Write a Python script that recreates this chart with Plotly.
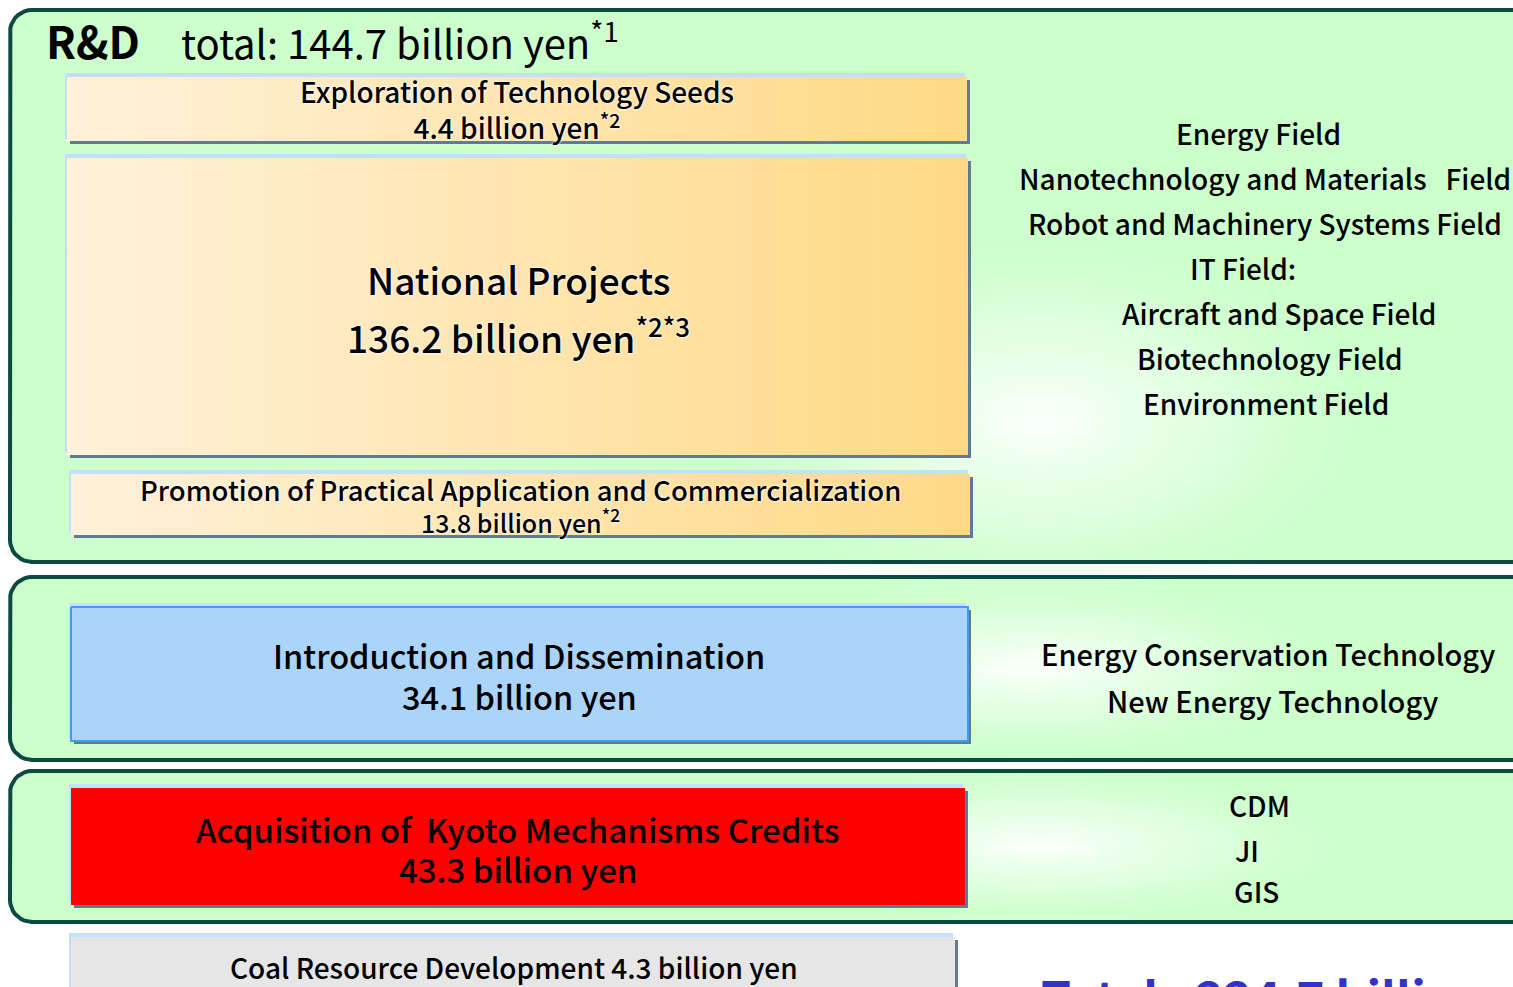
import math
import plotly.graph_objects as go

# ---------------- data ----------------
rd_title = "R&D"
rd_total = 144.7
rd_total_note = "*1"
rd_items = ["Exploration of Technology Seeds", "National Projects",
            "Promotion of Practical Application and Commercialization"]
rd_values = [4.4, 136.2, 13.8]
rd_notes = ["*2", "*2*3", "*2"]
rd_fields = ["Energy Field", "Nanotechnology and Materials   Field",
             "Robot and Machinery Systems Field", "IT Field:",
             "Aircraft and Space Field", "Biotechnology Field", "Environment Field"]

intro_item = "Introduction and Dissemination"
intro_value = 34.1
intro_fields = ["Energy Conservation Technology", "New Energy Technology"]

kyoto_item = "Acquisition of  Kyoto Mechanisms Credits"
kyoto_value = 43.3
kyoto_fields = ["CDM", "JI", "GIS"]

coal_item = "Coal Resource Development"
coal_value = 4.3

grand_total = 224.7
unit = "billion yen"

# ---------------- layout geometry (pixels) ----------------
W, H = 1513, 987
FONT = "Noto Sans CJK JP"

def rounded(x0, y0, x1, y1, r):
    xs, ys = [], []
    corners = [(x1 - r, y0 + r, -90, 0), (x1 - r, y1 - r, 0, 90),
               (x0 + r, y1 - r, 90, 180), (x0 + r, y0 + r, 180, 270)]
    for cx, cy, a0, a1 in corners:
        for i in range(10):
            a = math.radians(a0 + (a1 - a0) * i / 9)
            xs.append(cx + r * math.cos(a))
            ys.append(cy + r * math.sin(a))
    xs.append(xs[0]); ys.append(ys[0])
    return xs, ys

def rect(x0, y0, x1, y1):
    return [x0, x1, x1, x0, x0], [y0, y0, y1, y1, y0]

def ellipse(cx, cy, rx, ry, n=72):
    xs = [cx + rx * math.cos(2 * math.pi * i / n) for i in range(n + 1)]
    ys = [cy + ry * math.sin(2 * math.pi * i / n) for i in range(n + 1)]
    return xs, ys

fig = go.Figure()

def poly(xs, ys, fillcolor=None, line_color=None, line_width=0, gradient=None, fill=True):
    kw = dict(x=xs, y=ys, hoverinfo="skip", showlegend=False)
    if fill:
        kw["fill"] = "toself"
        if gradient is not None:
            kw["fillgradient"] = gradient
        else:
            kw["fillcolor"] = fillcolor
    if line_width > 0:
        kw["mode"] = "lines"
        kw["line"] = dict(color=line_color, width=line_width)
    else:
        kw["mode"] = "none"
    fig.add_trace(go.Scatter(**kw))

panels = [(10, 10, 1540, 562), (10, 577, 1540, 760), (10, 771, 1540, 922)]
glows = [(1040, 420, 360, 200), (1030, 668, 330, 100), (1040, 846, 340, 85)]
PANEL_FILL = "#ccffcc"
PANEL_LINE = "#0b4a42"

for (x0, y0, x1, y1) in panels:
    xs, ys = rounded(x0, y0, x1, y1, 22)
    poly(xs, ys, fillcolor=PANEL_FILL)
for (cx, cy, rx, ry) in glows:
    xs, ys = ellipse(cx, cy, rx, ry)
    poly(xs, ys, gradient=dict(type="radial",
                               colorscale=[[0, "rgba(255,255,255,0.95)"],
                                           [0.5, "rgba(235,255,235,0.6)"],
                                           [1, "rgba(204,255,204,0)"]]))
for (x0, y0, x1, y1) in panels:
    xs, ys = rounded(x0, y0, x1, y1, 22)
    poly(xs, ys, fill=False, line_color=PANEL_LINE, line_width=4)

ORANGE = dict(type="horizontal", colorscale=[[0, "#fff1da"], [1, "#ffd985"]])
LIGHTBLUE = "#c2e0fc"
SHADOW = "#5f7b92"

def box(x0, y0, x1, y1, fillcolor=None, gradient=None, border=None):
    xs, ys = rect(x0 - 2, y0 - 4, x1 - 2, y1 - 2)
    poly(xs, ys, fillcolor=LIGHTBLUE)
    xs, ys = rect(x0 + 3, y0 + 3, x1 + 3, y1 + 3)
    poly(xs, ys, fillcolor=SHADOW)
    xs, ys = rect(x0, y0, x1, y1)
    if border:
        poly(xs, ys, fillcolor=fillcolor, line_color=border, line_width=2)
    else:
        poly(xs, ys, fillcolor=fillcolor, gradient=gradient)

rd_boxes = [(67, 77, 967, 141), (67, 158, 968, 455), (71, 474, 970, 535)]
for b in rd_boxes:
    box(*b, gradient=ORANGE)
box(71, 607, 968, 741, fillcolor="#aad4fa", border="#3d9cf5")
box(71, 788, 965, 905, fillcolor="#ff0000")
box(71, 937, 955, 1000, fillcolor="#e6e6e6")

GLOW = "0 0 3px #ffffff, 0 0 2px #ffffff"

def label(x, y, text, size, color="black", anchor="center", weight=500, shadow=None, yanchor="middle"):
    font = dict(family=FONT, size=size, color=color, weight=weight)
    if shadow:
        font["shadow"] = shadow
    fig.add_annotation(x=x, y=y, xref="x", yref="y", text=text, showarrow=False,
                       xanchor=anchor, yanchor=yanchor, font=font, borderpad=0)

# Title
label(45, 40, rd_title, 44, anchor="left", weight=700)
label(180, 40, f"total: {rd_total} {unit}<sup>{rd_total_note}</sup>", 40, anchor="left", weight=400)

# R&D boxes text
label(517, 109, f"{rd_items[0]}<br>{rd_values[0]} {unit}<sup>{rd_notes[0]}</sup>", 28, shadow=GLOW)
label(518, 279, rd_items[1], 37, shadow=GLOW)
label(518, 335, f"{rd_values[1]} {unit}<sup>{rd_notes[1]}</sup>", 37, shadow=GLOW)
label(520, 489, rd_items[2], 27.5, shadow=GLOW)
label(520, 521, f"{rd_values[2]} {unit}<sup>{rd_notes[2]}</sup>", 25, shadow=GLOW)

field_x = [1258, 1265, 1265, 1243, 1279, 1270, 1266]
field_y = [133, 178, 223, 268, 313, 358, 403]
for fx, fy, t in zip(field_x, field_y, rd_fields):
    label(fx, fy, t, 28)

# Introduction
label(519, 654, intro_item, 32.5)
label(519, 695, f"{intro_value} {unit}", 32.5)
for fx, fy, t in zip([1268, 1273], [653, 700], intro_fields):
    label(fx, fy, t, 29)

# Kyoto
label(518, 829, kyoto_item, 33)
label(518, 869, f"{kyoto_value} {unit}", 33)
for fx, fy, t in zip([1259, 1247, 1256], [805, 850, 891], kyoto_fields):
    label(fx, fy, t, 28)

# Coal
label(514, 967, f"{coal_item} {coal_value} {unit}", 28)

# Grand total (cut off at bottom edge)
label(1040, 960, f"Total:  {grand_total} {unit}", 48, color="#3333cc", anchor="left",
      weight=700, yanchor="top")

fig.update_layout(
    width=W, height=H, margin=dict(l=0, r=0, t=0, b=0),
    paper_bgcolor="white", plot_bgcolor="white",
    xaxis=dict(range=[0, W], visible=False, fixedrange=True),
    yaxis=dict(range=[H, 0], visible=False, fixedrange=True),
)

fig.write_html("out.html", config={"displayModeBar": False},
               post_script="document.body.style.margin='0';document.body.style.overflow='hidden';")
